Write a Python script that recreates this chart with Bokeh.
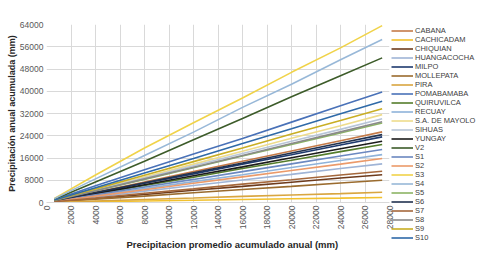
import math
from bokeh.plotting import figure
from bokeh.models import Legend, LegendItem, FixedTicker, Range1d, Title
from bokeh.embed import file_html
from bokeh.resources import INLINE

x_vals = [650, 4000, 8000, 12000, 16000, 20000, 24000, 27400]

names = ["CABANA", "CACHICADAM", "CHIQUIAN", "HUANGACOCHA", "MILPO", "MOLLEPATA",
         "PIRA", "POMABAMABA", "QUIRUVILCA", "RECUAY", "S.A. DE MAYOLO", "SIHUAS",
         "YUNGAY", "V2", "S1", "S2", "S3", "S4", "S5", "S6", "S7", "S8", "S9", "S10"]

colors = ["#c47a48", "#f2c12e", "#6e3b1c", "#9fb4d6", "#1f3a6e", "#9a6b2e",
          "#d9a640", "#4a72b8", "#557d2c", "#8fb3da", "#eedc8c", "#b8c6d8",
          "#1c1c1c", "#3d5c2a", "#6b88c0", "#eb9a6a", "#f0d34a", "#98b8d8",
          "#8cb565", "#223350", "#a5683c", "#8a8a8a", "#c9ae24", "#2f6aa8"]

CABANA = [600, 3700, 7400, 11100, 14800, 18500, 22200, 25400]
CACHICADAM = [60, 300, 560, 820, 1080, 1330, 1580, 1800]
CHIQUIAN = [240, 1500, 2900, 4400, 5800, 7300, 8800, 10000]
HUANGACOCHA = [330, 2000, 4100, 6100, 8100, 10100, 12200, 13900]
MILPO = [550, 3400, 6900, 10300, 13800, 17200, 20700, 23600]
MOLLEPATA = [190, 1200, 2300, 3500, 4700, 5800, 7000, 8000]
PIRA = [90, 540, 1100, 1600, 2200, 2700, 3200, 3700]
POMABAMABA = [1000, 6000, 11800, 17400, 23000, 28900, 34800, 39700]
QUIRUVILCA = [500, 3000, 6100, 9100, 12200, 15200, 18300, 20850]
RECUAY = [400, 2500, 5000, 7500, 10000, 12600, 15100, 17200]
SA_DE_MAYOLO = [800, 4600, 9200, 13800, 18400, 23100, 27600, 31600]
SIHUAS = [700, 4400, 8800, 13200, 17600, 22000, 26300, 30100]
YUNGAY = [520, 3200, 6400, 9600, 12800, 16100, 19300, 22000]
V2 = [1200, 7400, 14800, 22600, 30200, 38000, 45600, 52000]
S1 = [450, 2800, 5600, 8300, 11100, 13900, 16700, 19050]
S2 = [380, 2300, 4600, 6900, 9200, 11500, 13800, 15800]
S3 = [1500, 9900, 19600, 28700, 37600, 46800, 55600, 63600]
S4 = [1400, 8500, 16900, 25300, 34200, 42500, 51300, 58600]
S5 = [700, 4200, 8300, 12500, 16700, 20900, 25000, 28600]
S6 = [600, 3600, 7100, 10700, 14200, 17800, 21400, 24400]
S7 = [270, 1600, 3300, 4900, 6600, 8200, 9900, 11250]
S8 = [700, 4200, 8500, 12700, 16900, 21200, 25400, 29000]
S9 = [800, 4900, 9800, 14700, 19600, 24600, 29500, 33700]
S10 = [900, 5300, 10600, 15800, 21200, 26500, 31900, 36400]

series = [CABANA, CACHICADAM, CHIQUIAN, HUANGACOCHA, MILPO, MOLLEPATA, PIRA,
          POMABAMABA, QUIRUVILCA, RECUAY, SA_DE_MAYOLO, SIHUAS, YUNGAY, V2,
          S1, S2, S3, S4, S5, S6, S7, S8, S9, S10]

x_ticks = list(range(0, 28001, 2000))
y_ticks = list(range(0, 64001, 8000))

p = figure(frame_width=343, frame_height=178, output_backend="svg",
           toolbar_location=None,
           x_range=Range1d(0, 28000), y_range=Range1d(0, 64000),
           min_border_left=46, min_border_right=0, min_border_top=24,
           min_border_bottom=48)
p.outline_line_color = None
p.background_fill_color = "white"

items = []
for nm, col, ys in zip(names, colors, series):
    r = p.line(x_vals, ys, line_color=col, line_width=1.6)
    items.append(LegendItem(label=nm, renderers=[r]))

lab_font = "Liberation Sans"
p.xaxis.ticker = FixedTicker(ticks=x_ticks)
p.yaxis.ticker = FixedTicker(ticks=y_ticks)
p.xaxis.major_label_orientation = math.pi / 2
for ax in (p.xaxis[0], p.yaxis[0]):
    ax.major_label_text_font = lab_font
    ax.major_label_text_font_size = "8.5px"
    ax.major_label_text_color = "#595959"
    ax.major_tick_line_color = None
    ax.minor_tick_line_color = None
    ax.major_tick_out = 0
    ax.axis_label_text_font = lab_font
    ax.axis_label_text_font_style = "bold"
    ax.axis_label_text_font_size = "9px"
    ax.axis_label_text_color = "#262626"
p.yaxis.axis_line_color = None
p.xaxis.axis_line_color = "#d9d9d9"
p.xaxis.major_label_standoff = 3
p.yaxis.major_label_standoff = 3
p.yaxis.axis_label = "Precipitación anual acumulada (mm)"
p.yaxis.axis_label_standoff = 0

xtitle = Title(text="Precipitacion promedio acumulado anual (mm)", align="left",
               offset=80, standoff=9, text_font=lab_font, text_font_style="bold",
               text_font_size="9.5px", text_color="#262626")
p.add_layout(xtitle, "below")

p.xgrid.grid_line_color = "#d9d9d9"
p.ygrid.grid_line_color = "#d9d9d9"

legend = Legend(items=items, location="top_left", padding=2, margin=0, spacing=0,
                glyph_width=22, glyph_height=9, label_height=9, label_standoff=2,
                label_width=60,
                label_text_font=lab_font, label_text_font_size="7.5px",
                label_text_color="#404040", border_line_alpha=0,
                background_fill_alpha=0)
p.add_layout(legend, "right")

open("out.html", "w").write(file_html(p, INLINE))
